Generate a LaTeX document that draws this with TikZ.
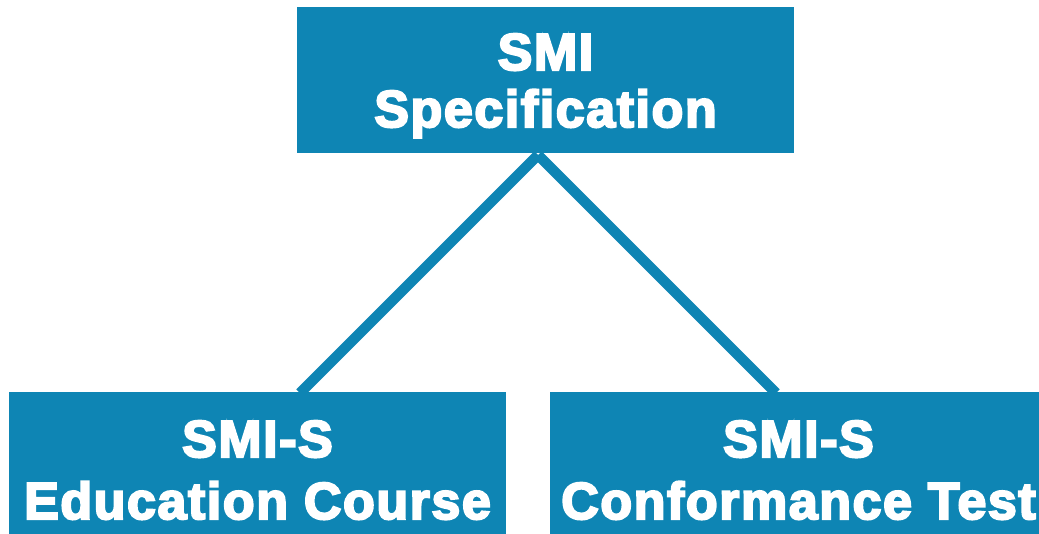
\documentclass[tikz,border=0pt]{standalone}
\usepackage{fontspec}
\setmainfont{Liberation Sans}[LetterSpace=3,BoldFeatures={FakeBold=4}]
\definecolor{smiblue}{RGB}{14,133,180}
\begin{document}
\begin{tikzpicture}[x=1pt,y=-1pt,
  box/.style={fill=smiblue, draw=none, inner sep=0pt, minimum width=497pt},
  lbl/.style={anchor=base, text=white, inner sep=0pt, font=\bfseries},
  link/.style={draw=smiblue, line width=10.5pt}]
\useasboundingbox (0,0) rectangle (1039,533);
\clip (0,0) rectangle (1039,533);
\coordinate (apex) at (538,155);
\coordinate (le) at (300,393);
\coordinate (re) at (776,393);
\draw[link] (apex) -- (le);
\draw[link] (apex) -- (re);
\node[box, minimum height=146pt] (spec) at (545.5,80) {};
\node[box, minimum height=156pt] (edu) at (257.5,470) {};
\node[box, minimum height=156pt] (conf) at (798.5,470) {};
\node[lbl] (specT) at (545.5,127) {\fontsize{52}{57}\selectfont\begin{tabular}[b]{@{}c@{}}SMI\\Specification\end{tabular}};
\node[lbl] (eduT) at (257.5,519) {\fontsize{52}{62}\selectfont\begin{tabular}[b]{@{}c@{}}SMI-S\\Education Course\end{tabular}};
\node[lbl] (confT) at (798.5,519) {\fontsize{52}{62}\selectfont\begin{tabular}[b]{@{}c@{}}SMI-S\\Conformance Test\end{tabular}};
\end{tikzpicture}
\end{document}
